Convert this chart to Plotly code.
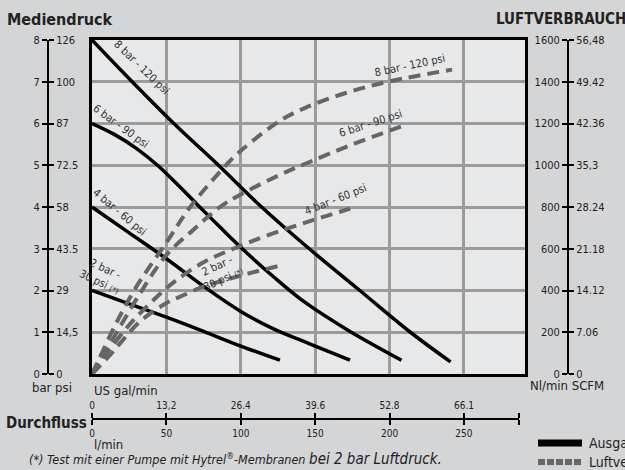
import plotly.graph_objects as go

# ---------------- data ----------------
# Solid curves: outlet pressure (bar) vs flow (l/min)
p8_x = [0, 27, 55, 85, 114, 146, 180, 214, 241]
p8_y = [8, 7, 6, 5, 4, 3, 2, 1, 0.29]
p6_x = [0, 15, 30, 44, 58, 71, 86, 101, 122, 143, 172, 208]
p6_y = [6, 5.74, 5.4, 5.0, 4.52, 4.05, 3.52, 3.0, 2.33, 1.72, 1.05, 0.33]
p4_x = [0, 25, 50, 75, 100, 122, 145, 173.4]
p4_y = [4, 3.38, 2.76, 2.1, 1.5, 1.08, 0.74, 0.33]
p2_x = [0, 25, 50, 75, 100, 126.3]
p2_y = [2, 1.68, 1.36, 1.02, 0.67, 0.33]

# Dashed curves: air consumption (Nl/min) vs flow (l/min)
a8_x = [0, 4, 16, 30, 50, 66, 90, 100, 127, 143, 170, 200, 242]
a8_y = [0, 60, 240, 420, 630, 800, 1000, 1070, 1216, 1274, 1345, 1402, 1458]
a6_x = [0, 5, 15, 30, 50, 68, 86, 100, 125, 147, 175, 210]
a6_y = [0, 60, 180, 360, 570, 690, 800, 860, 950, 1018, 1100, 1191]
a4_x = [0, 10, 25, 40, 55, 75, 95, 117, 149, 173.5]
a4_y = [0, 100, 235, 345, 440, 535, 600, 662, 738, 792]
a2_x = [0, 12, 21, 32, 50, 64, 75, 88, 100, 126.3]
a2_y = [0, 90, 165, 250, 340, 385, 420, 447, 472, 519]

# Tick labels
bar_vals = [0, 1, 2, 3, 4, 5, 6, 7, 8]
bar_text = ["0", "1", "2", "3", "4", "5", "6", "7", "8"]
psi_text = ["0", "14,5", "29", "43.5", "58", "72.5", "87", "100", "126"]
nl_vals = [0, 200, 400, 600, 800, 1000, 1200, 1400, 1600]
nl_text = ["0", "200", "400", "600", "800", "1000", "1200", "1400", "1600"]
scfm_text = ["0", "7.06", "14.12", "21.18", "28.24", "35,3", "42.36", "49.42", "56,48"]
lmin_vals = [0, 50, 100, 150, 200, 250]
lmin_text = ["0", "50", "100", "150", "200", "250"]
gal_text = ["0", "13,2", "26.4", "39.6", "52.8", "66.1"]

# ---------------- layout helpers ----------------
W, H = 625, 470
def px(x):
    return x / W
def py(y):
    return 1 - y / H

FONT = "DejaVu Sans Condensed, Liberation Sans Narrow, Liberation Sans, sans-serif"
BG = "#d4d5d7"
PLOT_BG = "#e7e8ea"
GRID = "#9b9b9b"
DASH_C = "#666666"

x_dom = [px(92), px(525)]
y_dom = [py(374), py(40)]

fig = go.Figure()

def solid(x, y):
    fig.add_trace(go.Scatter(x=x, y=y, mode="lines", line=dict(color="black", width=3.5, shape="spline", smoothing=1.0),
                             hoverinfo="skip", showlegend=False))

def dashed(x, y):
    fig.add_trace(go.Scatter(x=x, y=y, mode="lines", yaxis="y2",
                             line=dict(color=DASH_C, width=4, dash="12px,7px", shape="spline", smoothing=1.0),
                             hoverinfo="skip", showlegend=False))

solid(p8_x, p8_y)
solid(p6_x, p6_y)
solid(p4_x, p4_y)
solid(p2_x, p2_y)
dashed(a8_x, a8_y)
dashed(a6_x, a6_y)
dashed(a4_x, a4_y)
dashed(a2_x, a2_y)

# dummy traces to register the extra scale axes
for xa, ya in [("x", "y3"), ("x", "y4"), ("x", "y5"), ("x2", "y3"), ("x3", "y3")]:
    fig.add_trace(go.Scatter(x=[None], y=[None], xaxis=xa, yaxis=ya, mode="lines",
                             hoverinfo="skip", showlegend=False))

tickfont = dict(family=FONT, size=11, color="#222")
scale_common = dict(showgrid=False, zeroline=False, showline=True, linecolor="black", linewidth=2,
                    ticks="outside", ticklen=5, tickwidth=2, tickcolor="black", tickfont=tickfont,
                    fixedrange=True)

fig.update_layout(
    width=W, height=H,
    margin=dict(l=0, r=0, t=0, b=0, autoexpand=False),
    paper_bgcolor=BG, plot_bgcolor="rgba(0,0,0,0)",
    showlegend=False,
    font=dict(family=FONT, color="#222"),
    xaxis=dict(domain=x_dom, range=[0, 291], tickvals=lmin_vals, showticklabels=False, ticks="",
               showgrid=True, gridcolor=GRID, gridwidth=2.5, zeroline=False,
               showline=True, mirror=True, linecolor="black", linewidth=3, fixedrange=True),
    yaxis=dict(domain=y_dom, range=[0, 8], tickvals=bar_vals, showticklabels=False, ticks="",
               showgrid=True, gridcolor=GRID, gridwidth=2.5, zeroline=False,
               showline=True, mirror=True, linecolor="black", linewidth=3, fixedrange=True),
    yaxis2=dict(overlaying="y", anchor="free", position=px(568), side="left", range=[0, 1600],
                tickvals=nl_vals, ticktext=nl_text, **scale_common),
    yaxis5=dict(overlaying="y", anchor="free", position=px(568), side="right", range=[0, 1600],
                tickvals=nl_vals, ticktext=scfm_text, **scale_common),
    yaxis3=dict(overlaying="y", anchor="free", position=px(48), side="left", range=[0, 8],
                tickvals=bar_vals, ticktext=bar_text, **scale_common),
    yaxis4=dict(overlaying="y", anchor="free", position=px(48), side="right", range=[0, 8],
                tickvals=bar_vals, ticktext=psi_text, **scale_common),
    xaxis2=dict(domain=[px(92), px(519)], anchor="free", position=py(419), side="bottom", range=[0, 287],
                tickvals=lmin_vals + [287], ticktext=lmin_text + [""],
                **{**scale_common, "tickfont": dict(family=FONT, size=10, color="#222")}),
    xaxis3=dict(overlaying="x2", anchor="free", position=py(419), side="top", range=[0, 287],
                tickvals=lmin_vals + [287], ticktext=gal_text + [""],
                **{**scale_common, "tickfont": dict(family=FONT, size=10, color="#222")}),
)

ann = []
def paper_text(x, y, text, size=13, bold=False, xanchor="left", italic=False, color="#222"):
    t = f"<b>{text}</b>" if bold else text
    if italic:
        t = f"<i>{t}</i>"
    ann.append(dict(x=px(x), y=py(y), xref="paper", yref="paper", text=t, showarrow=False,
                    xanchor=xanchor, yanchor="middle", font=dict(family=FONT, size=size, color=color)))

paper_text(5, 19, "Mediendruck", size=16, bold=True)
paper_text(494, 19, "LUFTVERBRAUCH", size=15, bold=True)
paper_text(30, 387, "bar psi", size=13)
paper_text(528, 385, "Nl/min SCFM", size=13)
paper_text(92, 390, "US gal/min", size=13)
paper_text(92, 444, "l/min", size=13)
paper_text(4, 423, "Durchfluss", size=15, bold=True)
paper_text(27, 459, "(*) Test mit einer Pumpe mit Hytrel<sup>®</sup>-Membranen <span style='font-size:15px'>bei 2 bar Luftdruck.</span>",
           size=12.5, italic=True)
paper_text(587, 443, "Ausgangsdruck", size=14)
paper_text(587, 462, "Luftverbrauch", size=14)

def curve_label(x, y, text, angle):
    ann.append(dict(x=x, y=y, xref="x", yref="y", text=text, showarrow=False, textangle=angle,
                    xanchor="center", yanchor="middle", font=dict(family=FONT, size=11, color="#333")))

curve_label(33.4, 7.35, "8 bar - 120 psi", 44)
curve_label(19.5, 5.93, "6 bar - 90 psi", 36)
curve_label(18.8, 3.88, "4 bar - 60 psi", 40)
curve_label(7.0, 2.35, "2 bar -<br>30 psi <span style='font-size:8px'>(*)</span>", 25)
curve_label(214, 7.38, "8 bar - 120 psi", -12)
curve_label(187.5, 5.99, "6 bar - 90 psi", -18)
curve_label(164, 4.17, "4 bar - 60 psi", -22)
curve_label(86, 2.44, "2 bar -<br>30 psi <span style='font-size:8px'>(*)</span>", -25)

fig.update_layout(annotations=ann)

shapes = [
    dict(type="rect", xref="paper", yref="paper", x0=x_dom[0], x1=x_dom[1], y0=y_dom[0], y1=y_dom[1],
         fillcolor=PLOT_BG, line=dict(width=0), layer="below"),
    dict(type="line", xref="paper", yref="paper", x0=px(538), x1=px(582), y0=py(443), y1=py(443),
         line=dict(color="black", width=7)),
    dict(type="line", xref="paper", yref="paper", x0=px(538), x1=px(582), y0=py(462), y1=py(462),
         line=dict(color=DASH_C, width=6, dash="7px,2px")),
]
fig.update_layout(shapes=shapes)

fig.write_html("out.html", config={"displayModeBar": False},
               post_script="document.body.style.margin='0';document.body.style.overflow='hidden';")
